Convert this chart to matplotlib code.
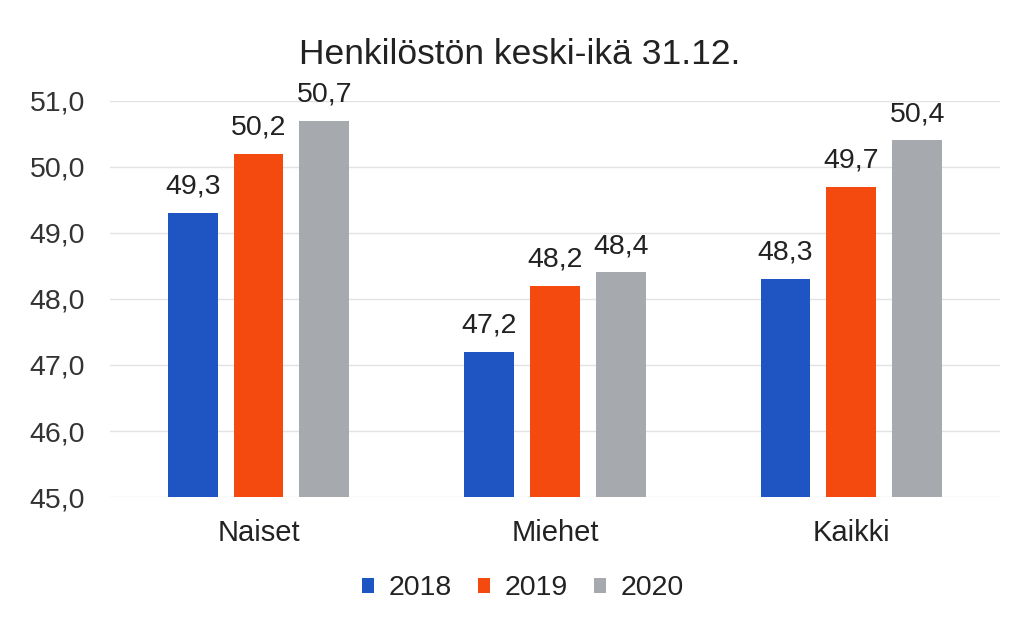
import matplotlib
matplotlib.use("Agg")
import matplotlib.pyplot as plt
import numpy as np

categories = ["Naiset", "Miehet", "Kaikki"]
years = ["2018", "2019", "2020"]
values_2018 = [49.3, 47.2, 48.3]
values_2019 = [50.2, 48.2, 49.7]
values_2020 = [50.7, 48.4, 50.4]
yticks = [45.0, 46.0, 47.0, 48.0, 49.0, 50.0, 51.0]
colors = ["#1f55c2", "#f4490f", "#a6a9ae"]

plt.rcParams['font.family'] = ['Liberation Sans', 'DejaVu Sans']

fig = plt.figure(figsize=(10.21, 6.26), dpi=100)
ax = fig.add_axes([0.108, 0.206, 0.871, 0.633])

x = np.arange(len(categories))
w = 0.168
off = 0.222
series = [values_2018, values_2019, values_2020]
for i, (yr, vals, c) in enumerate(zip(years, series, colors)):
    pos = x + (i - 1) * off
    ax.bar(pos, [v - 45 for v in vals], w, bottom=45, color=c, label=yr, zorder=3)
    for p, v in zip(pos, vals):
        ax.text(p, v + 0.2, f"{v:.1f}".replace(".", ","), ha="center", va="bottom",
                fontsize=20.5, color="#222222")

ax.set_xlim(-0.5, 2.5)
ax.set_ylim(45, 51)
ax.set_yticks(yticks)
ax.set_yticklabels([f"{t:.1f}".replace(".", ",") for t in yticks], fontsize=20.5, color="#333333")
ax.set_xticks(x)
ax.set_xticklabels(categories, fontsize=21, color="#222222")
ax.tick_params(axis="x", length=0, pad=16)
ax.tick_params(axis="y", length=0, pad=18)
for s in ax.spines.values():
    s.set_visible(False)
ax.grid(axis="y", color="#e2e2e2", linewidth=1, zorder=0)

fig.suptitle("Henkilöstön keski-ikä 31.12.", x=0.509, y=0.94, fontsize=25.5, color="#222222")

handles, labels = ax.get_legend_handles_labels()
fig.legend(handles, labels, loc="center", bbox_to_anchor=(0.512, 0.06), ncol=3, frameon=False,
           fontsize=20.5, handlelength=0.45, handleheight=0.45, handletextpad=0.5, columnspacing=0.9,
           labelcolor="#222222")

fig.savefig("out.png", dpi=100, facecolor="white")
